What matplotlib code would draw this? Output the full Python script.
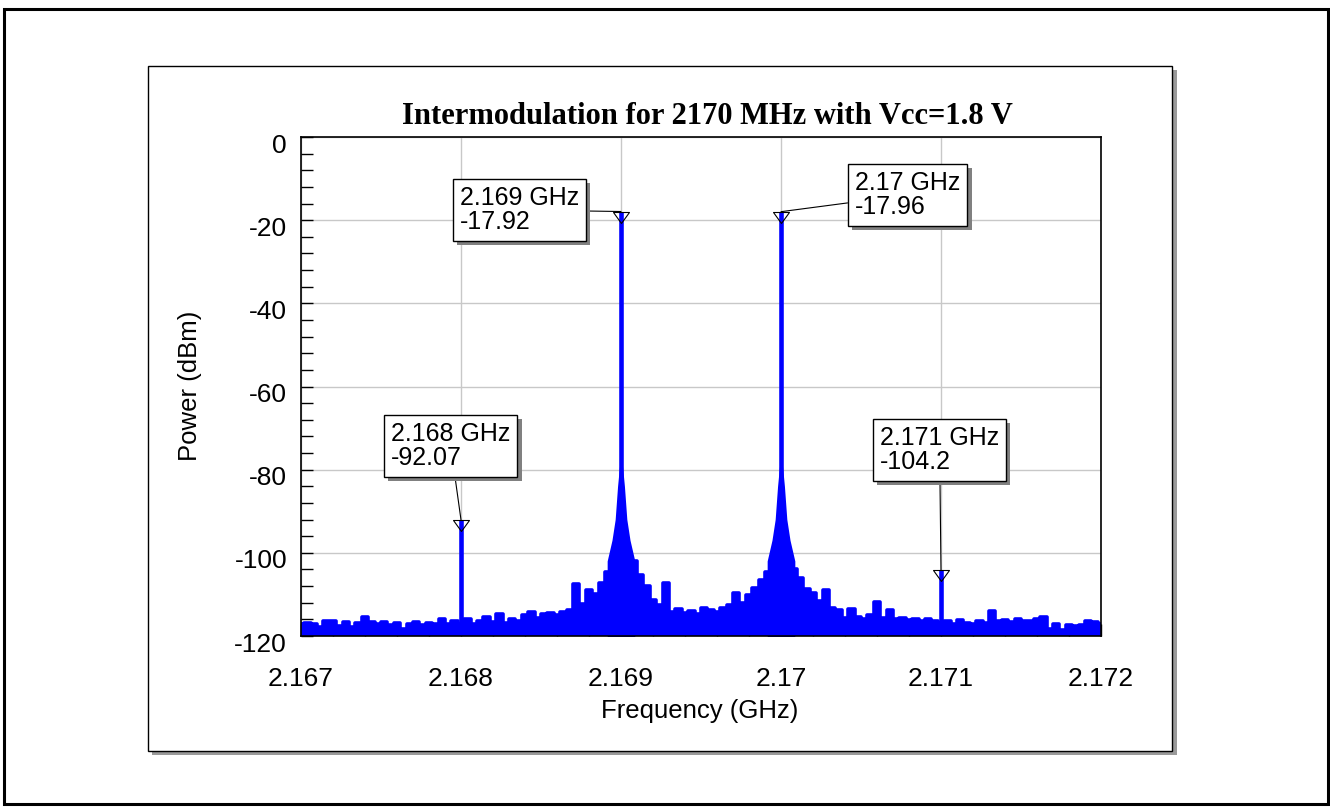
import numpy as np
import matplotlib.pyplot as plt
import matplotlib.patheffects as pe
from matplotlib.patches import Rectangle
from matplotlib.path import Path
from matplotlib.transforms import ScaledTranslation

plt.rcParams['font.family'] = ['Liberation Sans', 'DejaVu Sans']
plt.rcParams['axes.unicode_minus'] = False

# noise floor of the spectrum, one reading every 40 kHz from 2.167 GHz
floor_start = 2.167
floor_step = 0.00004
floor_dbm = [
    -117.0, -116.8, -117.2, -117.8, -116.3, -116.5, -117.6, -116.6, -117.8, -116.9,
    -115.4, -116.7, -117.0, -116.6, -117.3, -116.8, -118.4, -117.2, -116.6, -117.3,
    -116.8, -117.2, -115.8, -117.0, -116.4, -117.2, -116.0, -117.0, -116.4, -115.4,
    -116.6, -114.6, -116.8, -115.9, -116.4, -115.0, -114.2, -115.6, -114.8, -114.4,
    -115.0, -114.3, -113.8, -107.5, -112.2, -109.0, -110.0, -107.3, -104.5, -101.5,
    -98.0, -101.0, -102.0, -105.4, -108.0, -111.4, -112.5, -107.3, -114.3, -113.5,
    -114.5, -114.0, -114.6, -113.3, -113.8, -114.2, -113.2, -112.5, -109.7, -112.0,
    -110.2, -108.5, -106.5, -104.5, -101.5, -98.0, -100.5, -104.0, -106.0, -108.8,
    -109.7, -111.5, -109.0, -113.2, -113.8, -115.6, -113.4, -115.4, -115.8, -115.0,
    -111.8, -115.6, -113.8, -115.9, -115.6, -116.2, -115.8, -116.4, -115.9, -116.5,
    -116.8, -116.4, -117.0, -116.2, -116.8, -117.2, -116.5, -116.9, -114.0, -116.3,
    -116.2, -116.6, -115.8, -116.5, -116.4, -116.0, -115.4, -118.3, -117.0, -118.5,
    -117.4, -117.6, -117.4, -116.3, -116.6, -117.0,
]

# the two input tones and the third-order products
tone_ghz = [2.168, 2.169, 2.170, 2.171]
tone_dbm = [-92.07, -17.92, -17.96, -104.2]

# close-in skirt around each input tone
skirt_offset = [-0.00008, -0.00005, -0.00003, -0.000015, 0.0,
                0.000015, 0.00003, 0.00005, 0.00008]
skirt_dbm = [-102.0, -97.0, -92.0, -84.0, -78.0, -84.0, -92.0, -97.0, -102.0]

# marker boxes: text top-left corner in figure pixels
box_xy = [(391, 389), (460, 625), (855, 640), (880, 385)]

W, H = 1330, 811
fig = plt.figure(figsize=(W / 100, H / 100), dpi=100)
fig.patch.set_facecolor('white')


def frame(x0, y0, x1, y1, **kw):
    # rectangle given in image pixels (origin top-left)
    r = Rectangle((x0 / W, 1 - y1 / H), (x1 - x0) / W, (y1 - y0) / H,
                  transform=fig.transFigure, **kw)
    fig.add_artist(r)
    return r


frame(4, 9, 1328, 804, fill=False, ec='black', lw=2.2, zorder=-5)
frame(152, 70, 1177, 755, fc='#9a9a9a', ec='none', zorder=-4)
frame(148, 66, 1172, 751, fc='white', ec='black', lw=1.0, zorder=-3)

ax = fig.add_axes([301 / W, 1 - 636 / H, 800 / W, 499 / H])

freq = floor_start + floor_step * np.arange(len(floor_dbm))
ax.fill_between(freq, -120, floor_dbm, step='mid', color='#0000ff', lw=0, zorder=2)
ax.plot(freq, floor_dbm, drawstyle='steps-mid', color='#0000ff', lw=2.6,
        solid_joinstyle='round', solid_capstyle='round', zorder=2)

for f in tone_ghz[1:3]:
    sk = f + np.array(skirt_offset)
    ax.fill_between(sk, -120, skirt_dbm, color='#0000ff', lw=1.5, ec='#0000ff', zorder=2)

ax.vlines(tone_ghz, -120, tone_dbm, color='#0000ff', lw=3.3, zorder=3)

# open downward triangle whose top edge sits on the peak
tri = Path([(-8, 0), (8, 0), (0, -11), (-8, 0)],
           [Path.MOVETO, Path.LINETO, Path.LINETO, Path.CLOSEPOLY])
ax.plot(tone_ghz, tone_dbm, ls='none', marker=tri, ms=15.8, mfc='none',
        mec='black', mew=0.8, zorder=4, clip_on=False)

for f, v, (bx, by) in zip(tone_ghz, tone_dbm, box_xy):
    ann = ax.annotate(f'{f:.4g} GHz\n{v:.4g}', xy=(f, v), xytext=(bx, by),
                      textcoords='figure pixels', ha='left', va='top',
                      fontsize=18, linespacing=1.0, zorder=5,
                      bbox=dict(boxstyle='square,pad=0.28', fc='white', ec='black', lw=1.0),
                      arrowprops=dict(arrowstyle='-', color='black', lw=0.8,
                                      shrinkA=0, shrinkB=0))
    ann.get_bbox_patch().set_path_effects([
        pe.SimplePatchShadow(offset=(3, -3), shadow_rgbFace='#808080', alpha=1.0),
        pe.Normal()])

ax.set_xlim(2.167, 2.172)
ax.set_ylim(-120, 0)
ax.set_xticks(np.arange(6) * 0.001 + 2.167)
ax.set_xticklabels(['2.167', '2.168', '2.169', '2.17', '2.171', '2.172'])
ax.set_yticks(np.arange(-120, 1, 20))
ax.set_yticklabels([str(v) for v in range(-120, 1, 20)])
ax.set_xticks(np.arange(26) * 0.0002 + 2.167, minor=True)
ax.set_yticks(np.arange(-120, 1, 4), minor=True)
ax.tick_params(which='both', direction='in', length=8.6, width=1.0, color='black',
               top=False, right=False)
ax.tick_params(axis='x', which='major', labelsize=19, pad=22)
ax.tick_params(axis='y', which='major', labelsize=19, pad=10)
ax.grid(which='major', color='#c8c8c8', lw=1.0)
ax.set_axisbelow(True)
for s in ax.spines.values():
    s.set_linewidth(1.2)
    s.set_zorder(6)

# value labels sit a little below their ticks
shift = ScaledTranslation(0, -0.06, fig.dpi_scale_trans)
for lab in ax.get_yticklabels():
    lab.set_transform(lab.get_transform() + shift)

fig.text(707 / W, 1 - 124 / H, 'Intermodulation for 2170 MHz with Vcc=1.8 V',
         ha='center', va='baseline', fontsize=22, fontweight='bold',
         family='Liberation Serif')
fig.text(700 / W, 1 - 718 / H, 'Frequency (GHz)', ha='center', va='baseline', fontsize=18.5)
fig.text(190 / W, 1 - 386 / H, 'Power (dBm)', ha='center', va='center',
         rotation=90, fontsize=18.5)

fig.savefig('out.png', dpi=100)
